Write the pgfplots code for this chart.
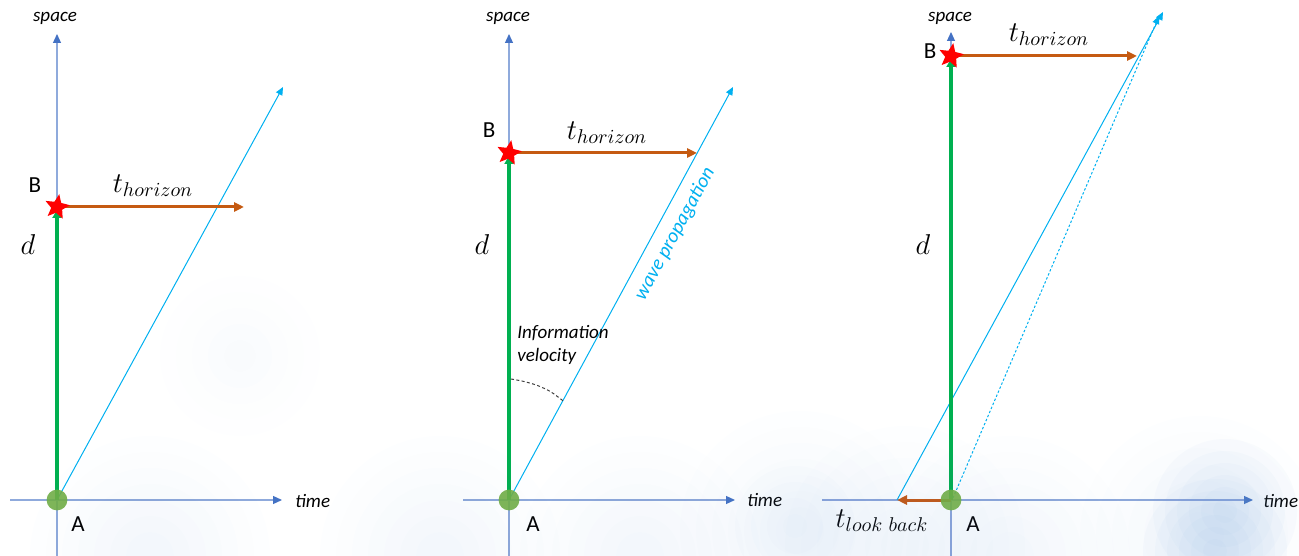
\documentclass[border=0pt]{standalone}
\usepackage{pgfplots}
\pgfplotsset{compat=1.18}
\usepackage{fontspec}
\setmainfont{Carlito}
\usetikzlibrary{arrows.meta}

\definecolor{axline}{HTML}{8FAADC}
\definecolor{axtip}{HTML}{4472C4}
\definecolor{wave}{HTML}{00B0F0}
\definecolor{grn}{HTML}{00B050}
\definecolor{circ}{HTML}{70AD47}
\definecolor{orng}{HTML}{C55A11}
\definecolor{wash}{HTML}{6FA0D8}

% filled five point star for point B
\pgfdeclareplotmark{redstar}{%
  \pgfpathmoveto{\pgfpointpolar{80}{\pgfplotmarksize}}%
  \pgfpathlineto{\pgfpointpolar{116}{0.45\pgfplotmarksize}}%
  \pgfpathlineto{\pgfpointpolar{152}{\pgfplotmarksize}}%
  \pgfpathlineto{\pgfpointpolar{188}{0.45\pgfplotmarksize}}%
  \pgfpathlineto{\pgfpointpolar{224}{\pgfplotmarksize}}%
  \pgfpathlineto{\pgfpointpolar{260}{0.45\pgfplotmarksize}}%
  \pgfpathlineto{\pgfpointpolar{296}{\pgfplotmarksize}}%
  \pgfpathlineto{\pgfpointpolar{332}{0.45\pgfplotmarksize}}%
  \pgfpathlineto{\pgfpointpolar{8}{\pgfplotmarksize}}%
  \pgfpathlineto{\pgfpointpolar{44}{0.45\pgfplotmarksize}}%
  \pgfpathclose
  \pgfusepathqfill
}
% fill-only disc, for the watercolour wash
\pgfdeclareplotmark{disc}{%
  \pgfpathcircle{\pgfpointorigin}{\pgfplotmarksize}%
  \pgfusepathqfill
}

\tikzset{
  axarr/.style={axline, line width=0.6bp, -{Triangle[length=4.5bp,width=4bp,color=axtip]}},
  wavearr/.style={wave, line width=0.5bp, -{Triangle[length=4bp,width=3.5bp]}},
  grnarr/.style={grn, line width=2bp, -{Triangle[length=4bp,width=4.5bp]}},
  orarr/.style={orng, line width=1.5bp, -{Triangle[length=5bp,width=4.5bp]}},
  lab/.style={inner sep=0pt, font=\fontsize{9.5bp}{11bp}\selectfont\itshape},
  pt/.style={font=\fontsize{11.5bp}{13bp}\selectfont},
  mth/.style={font=\fontsize{14bp}{16bp}\selectfont},
}

\begin{document}
\begin{tikzpicture}
\begin{axis}[name=ax, at={(0,0)}, anchor=south west,
  scale only axis, width=649.5bp, height=278bp,
  xmin=0, xmax=1299, ymin=0, ymax=556,
  hide axis, clip=true]

% watercolour wash along the bottom: soft layered discs
\foreach \s in {60,52,44,36,28,20,12}{
  \edef\tmp{\noexpand\addplot[only marks, mark=disc, mark size=\s bp,
    mark options={fill=wash, fill opacity=0.011}]
    coordinates {(150,0) (440,0) (640,0) (800,25) (905,10) (1010,0) (1200,20)};}
  \tmp
}
\foreach \s in {40,32,24,16,8}{
  \edef\tmp{\noexpand\addplot[only marks, mark=disc, mark size=\s bp,
    mark options={fill=wash, fill opacity=0.008}]
    coordinates {(240,200)};}
  \tmp
}
\foreach \s in {36,30,24,18,12,6}{
  \edef\tmp{\noexpand\addplot[only marks, mark=disc, mark size=\s bp,
    mark options={fill=wash, fill opacity=0.035}]
    coordinates {(1225,45) (1215,5)};}
  \tmp
}
\foreach \s in {30,22,14,6}{
  \edef\tmp{\noexpand\addplot[only marks, mark=disc, mark size=\s bp,
    mark options={fill=wash, fill opacity=0.02}]
    coordinates {(795,30)};}
  \tmp
}

% ---------- panel 1 ----------
\addplot[axarr] coordinates {(57,0) (57,522)};
\addplot[axarr] coordinates {(10,56) (282,56)};
\addplot[wavearr] coordinates {(57,56) (283,469)};
\addplot[grnarr] coordinates {(57,56) (57,346)};
\addplot[orarr] coordinates {(57,349) (244,349)};
\addplot[only marks, mark=disc, mark size=5.2bp, mark options={fill=circ, fill opacity=0.9}] coordinates {(57,56)};
\addplot[only marks, mark=redstar, mark size=6.5bp, mark options={fill=red}] coordinates {(57,349)};
\node[lab] at (axis cs:55,538) {space};
\node[lab, anchor=west] at (axis cs:295,55) {time};
\node[pt] at (axis cs:78,32) {A};
\node[pt] at (axis cs:35,371) {B};
\node[mth] at (axis cs:28,311) {$d$};
\node[mth] at (axis cs:153,370) {$t_{horizon}$};

% ---------- panel 2 ----------
\addplot[axarr] coordinates {(509,0) (509,522)};
\addplot[axarr] coordinates {(463,56) (735,56)};
\addplot[wavearr] coordinates {(509,56) (733,469)};
\addplot[grnarr] coordinates {(509,56) (509,400)};
\addplot[orarr] coordinates {(509,403) (697,403)};
\addplot[black!75, line width=0.5bp, dash pattern=on 1.5bp off 1.2bp, smooth]
  coordinates {(511,177) (523.6,174.6) (537.5,170.5) (550.6,164.3) (562.9,155.3)};
\addplot[only marks, mark=disc, mark size=5.2bp, mark options={fill=circ, fill opacity=0.9}] coordinates {(509,56)};
\addplot[only marks, mark=redstar, mark size=6.5bp, mark options={fill=red}] coordinates {(509,403)};
\node[lab] at (axis cs:508,538) {space};
\node[lab, anchor=west] at (axis cs:747,56) {time};
\node[pt] at (axis cs:533,32) {A};
\node[pt] at (axis cs:489,426) {B};
\node[mth] at (axis cs:482,311) {$d$};
\node[mth] at (axis cs:607,423) {$t_{horizon}$};
\node[lab, anchor=west] at (axis cs:517,223) {Information};
\node[lab, anchor=west] at (axis cs:517,200) {velocity};
\node[font=\fontsize{10bp}{12bp}\selectfont\itshape, inner sep=0pt, text=wave, rotate=61.5] at (axis cs:675,322) {wave propagation};

% ---------- panel 3 ----------
\addplot[axarr] coordinates {(951,0) (951,524)};
\addplot[axarr] coordinates {(822,56) (1253,56)};
\addplot[wavearr] coordinates {(897,56) (1163,544)};
\addplot[wave, line width=0.5bp, dash pattern=on 1.2bp off 1bp, -{Triangle[length=4bp,width=3.5bp]}] coordinates {(953,58) (1159,540)};
\addplot[grnarr] coordinates {(951,56) (951,497)};
\addplot[orarr] coordinates {(951,500) (1137,500)};
\addplot[orarr] coordinates {(951,56) (897,56)};
\addplot[only marks, mark=disc, mark size=5.2bp, mark options={fill=circ, fill opacity=0.9}] coordinates {(951,56)};
\addplot[only marks, mark=redstar, mark size=6.5bp, mark options={fill=red}] coordinates {(951,500)};
\node[lab] at (axis cs:950,538) {space};
\node[lab, anchor=west] at (axis cs:1263,55) {time};
\node[pt] at (axis cs:973,32) {A};
\node[pt] at (axis cs:930,505) {B};
\node[mth] at (axis cs:923,311) {$d$};
\node[mth] at (axis cs:1049,521) {$t_{horizon}$};
\node[mth] at (axis cs:882,35) {$t_{look\ back}$};
\end{axis}
\pgfresetboundingbox
\path (ax.south west) rectangle (ax.north east);
\end{tikzpicture}
\end{document}
